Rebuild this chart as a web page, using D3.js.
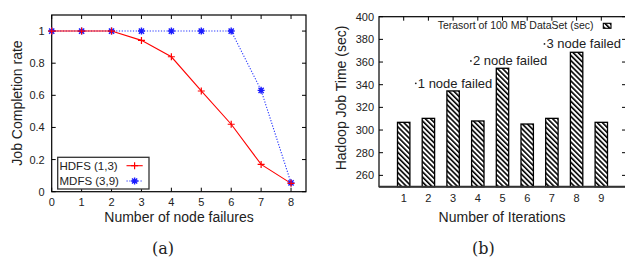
<!DOCTYPE html>
<html><head><meta charset="utf-8">
<script src="https://cdn.jsdelivr.net/npm/d3@7"></script>
<style>
body{margin:0;background:#fff;}
svg{display:block;font-family:"Liberation Sans",Arial,sans-serif;}
</style></head><body>
<svg id="c" width="625" height="259"></svg>
<script>
// ---- data: chart (a)
const failures = [0,1,2,3,4,5,6,7,8];
const hdfs = [1,1,1,0.942,0.84,0.627,0.42,0.17,0.052];
const mdfs = [1,1,1,1,1,1,1,0.631,0.055];
const aXTicks = [0,1,2,3,4,5,6,7,8];
const aYTicks = [0,0.2,0.4,0.6,0.8,1];
const seriesNames = ["HDFS (1,3)","MDFS (3,9)"];
// ---- data: chart (b)
const iterations = [1,2,3,4,5,6,7,8,9];
const jobTime = [306.8,310.3,334.5,308,354.5,305.3,310.3,368.6,306.8];
const bYTicks = [260,280,300,320,340,360,380,400];
const annotations = [{x:1.49,y:341.2,t:"1 node failed"},{x:3.72,y:361,t:"2 node failed"},{x:6.7,y:376,t:"3 node failed"}];
const barLegend = "Terasort of 100 MB DataSet (sec)";

const svg = d3.select("#c");
const defs = svg.append("defs");
const pat = defs.append("pattern").attr("id","hatch").attr("patternUnits","userSpaceOnUse")
  .attr("width",3.6).attr("height",3.6).attr("patternTransform","rotate(-45)");
pat.append("rect").attr("width",3.6).attr("height",3.6).attr("fill","#fff");
pat.append("rect").attr("width",1.6).attr("height",3.6).attr("fill","#000");

// ================= chart (a)
const A = {l:51.7,r:306,t:15,b:191.7};
const ax = d3.scaleLinear().domain([0,8.5]).range([A.l,A.r]);
const ay = d3.scaleLinear().domain([0,1.1]).range([A.b,A.t]);
const ga = svg.append("g");
const tk = 4;
aXTicks.forEach(v=>{
  ga.append("line").attr("x1",ax(v)).attr("x2",ax(v)).attr("y1",A.b).attr("y2",A.b-tk).attr("stroke","#000");
  ga.append("line").attr("x1",ax(v)).attr("x2",ax(v)).attr("y1",A.t).attr("y2",A.t+tk).attr("stroke","#000");
  ga.append("text").attr("x",ax(v)).attr("y",A.b+14).attr("text-anchor","middle").attr("font-size",11).attr("fill","#222").text(v);
});
aYTicks.forEach(v=>{
  ga.append("line").attr("x1",A.l).attr("x2",A.l+tk).attr("y1",ay(v)).attr("y2",ay(v)).attr("stroke","#000");
  ga.append("line").attr("x1",A.r).attr("x2",A.r-tk).attr("y1",ay(v)).attr("y2",ay(v)).attr("stroke","#000");
  ga.append("text").attr("x",A.l-7).attr("y",ay(v)+4).attr("text-anchor","end").attr("font-size",11).attr("fill","#222").text(v);
});
ga.append("rect").attr("x",A.l).attr("y",A.t).attr("width",A.r-A.l).attr("height",A.b-A.t).attr("fill","none").attr("stroke","#000").attr("stroke-width",1.2);

function plus(g,x,y,c){const s=3.5;
  g.append("path").attr("d",`M${x-s},${y}H${x+s}M${x},${y-s}V${y+s}`).attr("stroke",c).attr("stroke-width",1.2);}
function star(g,x,y,c){const s=3.5,d=2.6;
  g.append("path").attr("d",`M${x-s},${y}H${x+s}M${x},${y-s}V${y+s}M${x-d},${y-d}L${x+d},${y+d}M${x-d},${y+d}L${x+d},${y-d}`).attr("stroke",c).attr("stroke-width",1.4);}

const line = d3.line().x((d,i)=>ax(failures[i])).y(d=>ay(d));
ga.append("path").datum(mdfs).attr("d",line).attr("fill","none").attr("stroke","#2030ff").attr("stroke-width",1.1).attr("stroke-dasharray","1.2,1.6");
ga.append("path").datum(hdfs).attr("d",line).attr("fill","none").attr("stroke","#f00").attr("stroke-width",1.1);
mdfs.forEach((v,i)=>star(ga,ax(failures[i]),ay(v),"#1a1aff"));
hdfs.forEach((v,i)=>plus(ga,ax(failures[i]),ay(v),"#f00"));

// legend (a)
ga.append("rect").attr("x",57.7).attr("y",157.3).attr("width",91.3).attr("height",31.7).attr("fill","#fff").attr("stroke","#333").attr("stroke-width",1.3);
ga.append("text").attr("x",59.5).attr("y",169.8).attr("font-size",11.5).attr("fill","#222").text(seriesNames[0]);
ga.append("text").attr("x",59.5).attr("y",185.2).attr("font-size",11.5).attr("fill","#222").text(seriesNames[1]);
ga.append("line").attr("x1",126.5).attr("x2",142.7).attr("y1",165.7).attr("y2",165.7).attr("stroke","#f00").attr("stroke-width",1.1);
plus(ga,134.6,165.7,"#f00");
ga.append("line").attr("x1",126.5).attr("x2",142.7).attr("y1",181).attr("y2",181).attr("stroke","#2030ff").attr("stroke-width",1.1).attr("stroke-dasharray","1.2,1.6");
star(ga,134.6,181,"#1a1aff");

ga.append("text").attr("transform",`translate(22,103) rotate(-90)`).attr("text-anchor","middle").attr("font-size",14).attr("fill","#222").text("Job Completion rate");
ga.append("text").attr("x",179).attr("y",221.5).attr("text-anchor","middle").attr("font-size",14).attr("fill","#222").text("Number of node failures");
ga.append("text").attr("x",163).attr("y",254).attr("text-anchor","middle").attr("font-size",16).attr("font-family","'DejaVu Serif','Liberation Serif',serif").attr("fill","#222").text("(a)");

// ================= chart (b)
const B = {l:379,r:626,t:16.7,b:186.7};
const bx = d3.scaleLinear().domain([0,10]).range([B.l,B.r]);
const by = d3.scaleLinear().domain([250,400]).range([B.b,B.t]);
const gb = svg.append("g");
const bw = 12.4;
gb.selectAll("rect.bar").data(jobTime).enter().append("rect").attr("class","bar")
  .attr("x",(d,i)=>bx(iterations[i])-bw/2).attr("width",bw)
  .attr("y",d=>by(d)).attr("height",d=>B.b-by(d))
  .attr("fill","url(#hatch)").attr("stroke","#000").attr("stroke-width",1.3);
iterations.forEach(v=>{
  gb.append("line").attr("x1",bx(v)).attr("x2",bx(v)).attr("y1",B.t).attr("y2",B.t+tk).attr("stroke","#000");
  gb.append("text").attr("x",bx(v)).attr("y",B.b+15.5).attr("text-anchor","middle").attr("font-size",11).attr("fill","#222").text(v);
});
bYTicks.forEach(v=>{
  gb.append("line").attr("x1",B.l).attr("x2",B.l+tk).attr("y1",by(v)).attr("y2",by(v)).attr("stroke","#000");
  gb.append("line").attr("x1",B.r).attr("x2",B.r-tk).attr("y1",by(v)).attr("y2",by(v)).attr("stroke","#000");
  gb.append("text").attr("x",B.l-5).attr("y",by(v)+4).attr("text-anchor","end").attr("font-size",11).attr("fill","#222").text(v);
});
gb.append("rect").attr("x",B.l).attr("y",B.t).attr("width",B.r-B.l).attr("height",B.b-B.t).attr("fill","none").attr("stroke","#000").attr("stroke-width",1.2);
gb.append("line").attr("x1",B.l).attr("x2",B.r).attr("y1",B.b).attr("y2",B.b).attr("stroke","#333").attr("stroke-width",2);

annotations.forEach(a=>{
  gb.append("circle").attr("cx",bx(a.x)).attr("cy",by(a.y)).attr("r",0.9).attr("fill","#222");
  gb.append("text").attr("x",bx(a.x)+2).attr("y",by(a.y)+4.5).attr("font-size",13).attr("fill","#222").text(a.t);
});
gb.append("text").attr("x",593.5).attr("y",29).attr("text-anchor","end").attr("font-size",10.5).attr("fill","#222").text(barLegend);
gb.append("rect").attr("x",603.3).attr("y",23.3).attr("width",7.7).attr("height",5).attr("fill","url(#hatch)").attr("stroke","#000").attr("stroke-width",1.1);

gb.append("text").attr("transform",`translate(346,98) rotate(-90)`).attr("text-anchor","middle").attr("font-size",14).attr("fill","#222").text("Hadoop Job Time (sec)");
gb.append("text").attr("x",502).attr("y",221.5).attr("text-anchor","middle").attr("font-size",14).attr("fill","#222").text("Number of Iterations");
gb.append("text").attr("x",483.3).attr("y",254).attr("text-anchor","middle").attr("font-size",16).attr("font-family","'DejaVu Serif','Liberation Serif',serif").attr("fill","#222").text("(b)");
</script></body></html>
